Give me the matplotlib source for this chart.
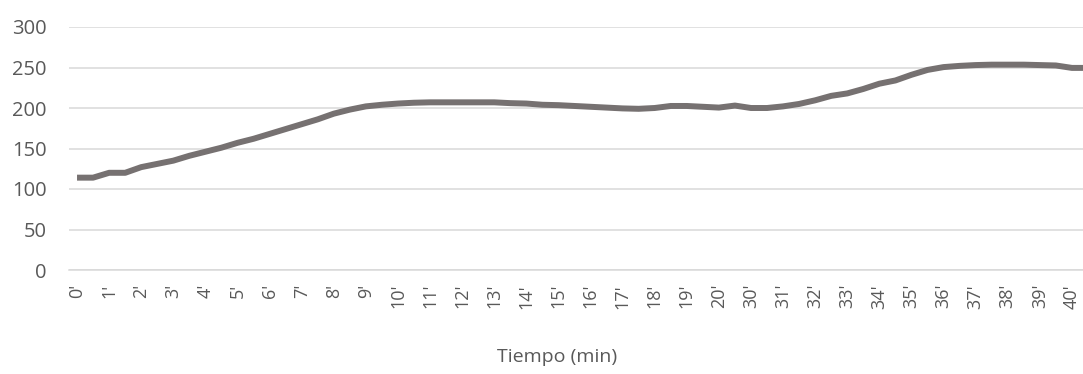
import matplotlib
matplotlib.use("Agg")
import matplotlib.pyplot as plt

# Minute labels (every other category is a half-minute reading)
minutes = list(range(0, 21)) + list(range(30, 41))
categories = []
for m in minutes:
    categories.append(f"{m}'")
    categories.append(f"{m}'30''")

values = [114, 114, 120, 120, 127, 131, 135, 141, 146, 151,
          157, 162, 168, 174, 180, 186, 193, 198, 202, 204,
          205.5, 206.5, 207, 207, 207, 207, 207, 206, 205.5, 204,
          203.5, 202.5, 201.5, 200.5, 199.5, 199, 200, 202.5, 202.5, 201.5,
          200.5, 203, 200, 200, 202, 205, 209.5, 215, 218, 223.5,
          230, 234, 241, 247, 250.5, 252, 253, 253.5, 253.5, 253.5,
          253, 252.5, 249.5, 249.5]

yticks = [0, 50, 100, 150, 200, 250, 300]
xlabel = "Tiempo (min)"

plt.rcParams['font.family'] = ['Open Sans', 'DejaVu Sans']
text_color = '#595959'

fig = plt.figure(figsize=(10.83, 3.74), dpi=100)
W, H = 1083, 374
left_px, right_px = 69, 1096
top_px, bottom_px = 27, 270
ax = fig.add_axes([left_px / W, 1 - bottom_px / H,
                   (right_px - left_px) / W, (bottom_px - top_px) / H])

x = list(range(len(categories)))
ax.plot(x, values, color='#767171', linewidth=4.3, solid_joinstyle='round',
        solid_capstyle='butt', zorder=3, clip_on=False)

ax.set_xlim(-0.5, len(categories) - 0.5)
ax.set_ylim(0, 300)
ax.set_yticks(yticks)
ax.set_yticklabels([str(v) for v in yticks])
ax.yaxis.grid(True, color='#d9d9d9', linewidth=1.1)
ax.set_axisbelow(True)

ax.set_xticks(x[::2])
ax.set_xticklabels(categories[::2], rotation=90)

for s in ['top', 'right', 'left']:
    ax.spines[s].set_visible(False)
ax.spines['bottom'].set_color('#d9d9d9')
ax.spines['bottom'].set_linewidth(1.1)

ax.tick_params(axis='y', length=0, pad=16, labelsize=14.5, labelcolor=text_color)
ax.tick_params(axis='x', length=0, pad=10, labelsize=13, labelcolor=text_color)

fig.text(557 / W, 1 - 357 / H, xlabel, ha='center', va='center',
         fontsize=14, color=text_color)

fig.savefig('out.png', dpi=100, facecolor='white')
